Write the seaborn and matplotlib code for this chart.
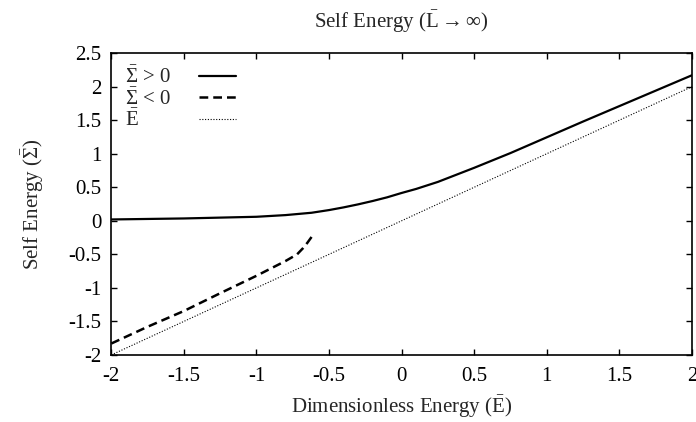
import matplotlib
matplotlib.use('Agg')
import matplotlib.pyplot as plt
import matplotlib.ticker as mticker
import pandas as pd
import seaborn as sns

# values
e_pos = [-2.0, -1.5, -1.0, -0.8, -0.62, -0.5, -0.4, -0.3, -0.2, -0.1, 0.0, 0.1,
         0.25, 0.5, 0.75, 1.0, 1.25, 1.5, 1.75, 2.0]
sigma_pos = [0.02, 0.035, 0.06, 0.085, 0.12, 0.16, 0.20, 0.245, 0.295, 0.35, 0.415, 0.475,
             0.58, 0.79, 1.01, 1.245, 1.48, 1.71, 1.94, 2.17]

e_neg = [-2.0, -1.75, -1.5, -1.25, -1.0, -0.9, -0.8, -0.72, -0.68, -0.65, -0.62]
sigma_neg = [-1.83, -1.58, -1.345, -1.08, -0.82, -0.71, -0.60, -0.50, -0.41, -0.33, -0.24]

e_line = [-2.0, 2.0]
sigma_line = [-2.0, 2.0]

x_ticks = [-2, -1.5, -1, -0.5, 0, 0.5, 1, 1.5, 2]
y_ticks = [-2, -1.5, -1, -0.5, 0, 0.5, 1, 1.5, 2, 2.5]

sns.set_theme(style="ticks")
plt.rcParams['font.family'] = ['Liberation Serif', 'DejaVu Serif']
plt.rcParams['mathtext.fontset'] = 'custom'
plt.rcParams['mathtext.rm'] = 'Liberation Serif'
plt.rcParams['mathtext.it'] = 'Liberation Serif'
plt.rcParams['mathtext.bf'] = 'Liberation Serif'

fs = 15

fig = plt.figure(figsize=(6.96, 4.22), dpi=100)
ax = fig.add_axes([0.16, 0.159, 0.834, 0.715])

df_pos = pd.DataFrame({'E': e_pos, 'S': sigma_pos})
df_neg = pd.DataFrame({'E': e_neg, 'S': sigma_neg})
df_line = pd.DataFrame({'E': e_line, 'S': sigma_line})

sns.lineplot(data=df_pos, x='E', y='S', ax=ax, color='black', lw=1.6,
             label=r'$\bar{\Sigma}$ > 0')
sns.lineplot(data=df_neg, x='E', y='S', ax=ax, color='black', lw=1.8,
             linestyle=(0, (3.5, 2)), label=r'$\bar{\Sigma}$ < 0')
sns.lineplot(data=df_line, x='E', y='S', ax=ax, color='black', lw=0.8,
             linestyle=(0, (1, 1.5)), label=r'$\bar{\mathrm{E}}$')

ax.set_xlim(-2, 2)
ax.set_ylim(-2, 2.5)
ax.set_xticks(x_ticks)
ax.set_yticks(y_ticks)
fmt = mticker.FuncFormatter(lambda v, p: f"{v:g}")
ax.xaxis.set_major_formatter(fmt)
ax.yaxis.set_major_formatter(fmt)
ax.tick_params(axis='both', direction='in', length=4.5, width=1, top=True, right=True,
               labelsize=fs, colors='black')
ax.tick_params(axis='x', pad=9)
ax.tick_params(axis='y', pad=7)
for sp in ax.spines.values():
    sp.set_linewidth(1.2)
    sp.set_color('black')

ax.set_title(r'Self Energy ($\bar{\mathrm{L}} \rightarrow \infty$)', fontsize=fs, pad=18)
ax.set_xlabel(r'Dimensionless Energy ($\bar{\mathrm{E}}$)', fontsize=fs, labelpad=5)
ax.set_ylabel(r'Self Energy ($\bar{\Sigma}$)', fontsize=fs, labelpad=16)

leg = ax.legend(loc='upper left', frameon=False, markerfirst=False,
                fontsize=fs, handlelength=1.8, labelspacing=0.0,
                borderaxespad=0.65, borderpad=0.0, handletextpad=1.35)

# gnuplot-style key: labels left-aligned, samples in one column
fig.canvas.draw()
widths = [t.get_window_extent().width for t in leg.get_texts()]
wmax = max(widths)
col = leg._legend_handle_box.get_children()[0]
col.align = 'left'
for row, w in zip(col.get_children(), widths):
    row.sep += (wmax - w) * 72 / fig.dpi

fig.savefig('out.png', dpi=100)
